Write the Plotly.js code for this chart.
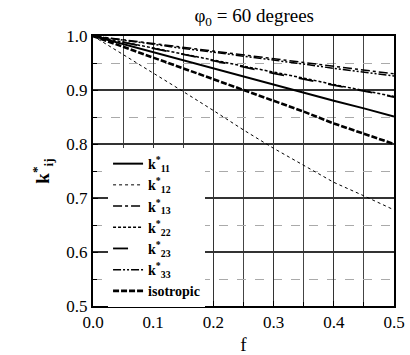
<!DOCTYPE html>
<html><head><meta charset="utf-8">
<script src="https://cdn.plot.ly/plotly-3.0.1.min.js"></script>
<style>html,body{margin:0;padding:0;background:#fff}#c{width:410px;height:355px}</style>
</head><body><div id="c"></div>
<script>
const f = [0, 0.05, 0.1, 0.15, 0.2, 0.25, 0.3, 0.35, 0.4, 0.45, 0.5];
const k11 = [1, 0.985, 0.970, 0.955, 0.940, 0.925, 0.909, 0.895, 0.880, 0.866, 0.851];
const k12 = [1, 0.966, 0.931, 0.897, 0.862, 0.826, 0.792, 0.760, 0.729, 0.704, 0.678];
const k13 = [1, 0.993, 0.986, 0.979, 0.972, 0.965, 0.958, 0.951, 0.944, 0.937, 0.930];
const k22 = [1, 0.989, 0.978, 0.967, 0.955, 0.944, 0.933, 0.922, 0.910, 0.899, 0.888];
const k23 = [1, 0.988, 0.977, 0.966, 0.954, 0.943, 0.931, 0.920, 0.909, 0.898, 0.887];
const k33 = [1, 0.992, 0.985, 0.977, 0.970, 0.963, 0.956, 0.948, 0.940, 0.933, 0.926];
const iso = [1, 0.980, 0.960, 0.940, 0.920, 0.900, 0.880, 0.860, 0.838, 0.819, 0.800];
const names = ['k<sup>*</sup><sub>11</sub>','k<sup>*</sup><sub>12</sub>','k<sup>*</sup><sub>13</sub>','k<sup>*</sup><sub>22</sub>','k<sup>*</sup><sub>23</sub>','k<sup>*</sup><sub>33</sub>','isotropic'];
const series = [k11,k12,k13,k22,k23,k33,iso];
const styles = [
  {dash:'solid', width:2},
  {dash:'dot', width:1},
  {dash:'dashdot', width:1.5},
  {dash:'3px,2px', width:1.5},
  {dash:'longdash', width:1.8},
  {dash:'8px,2px,2px,2px,2px,2px', width:1.5},
  {dash:'6px,2px', width:2.6}
];
const traces = series.map((y,i)=>({x:f, y:y, type:'scatter', mode:'lines', name:names[i],
  line:{color:'#000', dash:styles[i].dash, width:styles[i].width}}));
const fam = 'Times New Roman';
Plotly.newPlot('c', traces, {
  width:410, height:355,
  margin:{l:93, r:16, t:36, b:49},
  paper_bgcolor:'#fff', plot_bgcolor:'#fff',
  font:{family:fam, color:'#000'},
  title:{text:'φ<sub>0</sub> = 60 degrees', font:{family:fam, size:19, color:'#000'}, x:0.62, xanchor:'center', y:0.975, yanchor:'top'},
  xaxis:{range:[0,0.5], dtick:0.1, tickformat:'.1f', ticks:'inside', ticklen:5, tickcolor:'#000',
    showline:true, linecolor:'#000', linewidth:2, mirror:true, zeroline:false,
    showgrid:true, gridcolor:'#333', gridwidth:1.2,
    minor:{dtick:0.05, showgrid:true, gridcolor:'#444', gridwidth:1, ticks:'inside', ticklen:4, tickcolor:'#000'},
    tickfont:{family:fam, size:17, color:'#000'},
    title:{text:'f', font:{family:fam, size:19, color:'#000'}, standoff:8}},
  yaxis:{range:[0.5,1.0], dtick:0.1, tickformat:'.1f', ticks:'inside', ticklen:5, tickcolor:'#000',
    showline:true, linecolor:'#000', linewidth:2, mirror:true, zeroline:false,
    showgrid:true, gridcolor:'#333', gridwidth:1.2,
    minor:{dtick:0.05, showgrid:true, gridcolor:'#aaa', gridwidth:1, griddash:'dash', ticks:'inside', ticklen:4, tickcolor:'#000'},
    tickfont:{family:fam, size:17, color:'#000'},
    title:{text:'<b>k<sup>*</sup><sub>ij</sub></b>', font:{family:fam, size:19, color:'#000'}, standoff:12}},
  legend:{x:0.05, y:0.585, xanchor:'left', yanchor:'top', bgcolor:'#fff', borderwidth:0,
    font:{family:fam, size:14, color:'#000', weight:'bold'}, tracegroupgap:0, itemwidth:30},
  showlegend:true
}, {staticPlot:true});
</script></body></html>
